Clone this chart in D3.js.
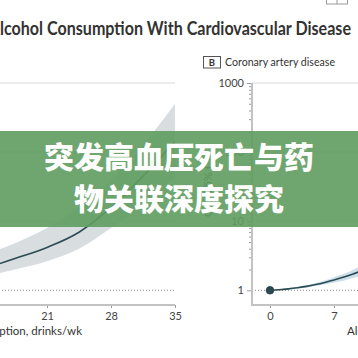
<!DOCTYPE html>
<html><head><meta charset="utf-8">
<script src="https://cdn.jsdelivr.net/npm/d3@7"></script>
<style>html,body{margin:0;padding:0;background:#fff;overflow:hidden}</style>
</head><body>
<svg id="c" width="358" height="358"></svg>
<script>
const titleText = "Alcohol Consumption With Cardiovascular Disease";
const panelBLabel = "B";
const panelBTitle = "Coronary artery disease";
const xTicks = [0, 7, 14, 21, 28, 35];
const yMajorTicks = [1, 10, 100, 1000];
const xTitle = "Alcohol consumption, drinks/wk";
const yTitle = "OR (95% CI)";
const bannerLines = ["突发高血压死亡与药", "物关联深度探究"];

// Panel A (left, mostly cropped)
const drinksA = [0, 3.5, 7, 10.5, 14, 17.5, 21, 24.5, 28, 31.5, 35];
const orA     = [1, 1.1, 1.25, 1.5, 2.04, 2.88, 4.17, 6.92, 15.8, 44.7, 141];
const lowerA  = [1, 1.04, 1.1, 1.25, 1.58, 2.0, 2.63, 3.98, 7.94, 17.8, 44.7];
const upperA  = [1, 1.17, 1.42, 1.8, 3.16, 4.79, 7.94, 15.8, 39.8, 126, 501];

// Panel B (right, Coronary artery disease)
const drinksB = [0, 1, 2, 3, 4, 5, 6, 7, 8, 9, 10, 12, 14, 17.5, 21, 28, 35];
const orB     = [1, 1.02, 1.05, 1.09, 1.14, 1.21, 1.30, 1.41, 1.54, 1.71, 1.91, 2.47, 3.32, 6.2, 13.2, 85, 600];
const lowerB  = [1, 1.01, 1.03, 1.06, 1.10, 1.15, 1.22, 1.29, 1.38, 1.49, 1.62, 1.95, 2.4, 3.6, 5.5, 14, 40];
const upperB  = [1, 1.03, 1.07, 1.12, 1.19, 1.28, 1.39, 1.55, 1.72, 1.95, 2.25, 3.1, 4.5, 10.5, 30, 450, 1000];

const svg = d3.select("#c");
const FONT = "Lato, 'Noto Sans', 'Liberation Sans', sans-serif";
const VIEW_W = 358;
const y = d3.scaleLog().domain([1, 1000]).range([290.3, 83]);
const xAxisY = 305;

const panels = [
  { x: d3.scaleLinear().domain([0, 35]).range([-145, 175]), axisX: -163, right: 175,
    d: drinksA, m: orA, lo: lowerA, hi: upperA, band: "#d8dde0", point: false },
  { x: d3.scaleLinear().domain([0, 35]).range([270, 590]), axisX: 252, right: 590,
    d: drinksB, m: orB, lo: lowerB, hi: upperB, band: "#cddfe9", point: true }
];

const minorTicks = [];
[1, 10, 100].forEach(b => { for (let k = 2; k <= 9; k++) minorTicks.push(b * k); });

panels.forEach((p, i) => {
  const g = svg.append("g");
  g.selectAll("line.grid").data([10, 100, 1000]).join("line")
    .attr("x1", p.axisX).attr("x2", p.right)
    .attr("y1", v => y(v)).attr("y2", v => y(v))
    .attr("stroke", "#e6e6e6").attr("stroke-width", 1.5);
  g.append("line").attr("x1", p.axisX).attr("x2", p.right)
    .attr("y1", y(1)).attr("y2", y(1))
    .attr("stroke", "#8a8a8a").attr("stroke-width", 1).attr("stroke-dasharray", "1,2");

  const clipId = "clip" + i;
  svg.append("clipPath").attr("id", clipId).append("rect")
    .attr("x", p.axisX).attr("y", 83).attr("width", p.right - p.axisX).attr("height", xAxisY - 83);
  const plot = g.append("g").attr("clip-path", `url(#${clipId})`);
  const idx = d3.range(p.d.length);
  const area = d3.area().x(j => p.x(p.d[j])).y0(j => y(p.lo[j])).y1(j => y(p.hi[j])).curve(d3.curveMonotoneX);
  const line = d3.line().x(j => p.x(p.d[j])).y(j => y(p.m[j])).curve(d3.curveMonotoneX);
  plot.append("path").attr("d", area(idx)).attr("fill", p.band);
  plot.append("path").attr("d", line(idx)).attr("fill", "none").attr("stroke", "#2b4a52").attr("stroke-width", 1.6);
  if (p.point) {
    plot.append("circle").attr("cx", p.x(p.d[0])).attr("cy", y(p.m[0])).attr("r", 3.8)
      .attr("fill", "#2b4a52").attr("stroke", "#1f3a42").attr("stroke-width", 0.8);
  }

  // y axis (only when on screen)
  if (p.axisX > 0) {
    const yMaj = d3.axisLeft(y).tickValues(yMajorTicks).tickSize(5).tickPadding(3).tickFormat(d3.format("d"));
    const yMin = d3.axisLeft(y).tickValues(minorTicks).tickSize(3).tickFormat("");
    const ga = g.append("g").attr("transform", `translate(${p.axisX},0)`);
    ga.call(yMin); ga.select(".domain").remove();
    const gb = g.append("g").attr("transform", `translate(${p.axisX},0)`);
    gb.call(yMaj); gb.select(".domain").remove();
    [ga, gb].forEach(s => s.selectAll(".tick line").attr("stroke", "#9a9a9a").attr("stroke-width", 1));
    gb.selectAll(".tick text").attr("font-family", FONT).attr("font-size", 11).attr("fill", "#444");
  }

  // x axis: only ticks that fall inside the picture
  const visTicks = xTicks.filter(t => p.x(t) >= 0 && p.x(t) <= VIEW_W);
  const xa = d3.axisBottom(p.x).tickValues(visTicks).tickSize(3).tickPadding(4).tickFormat(d3.format("d"));
  const gx = g.append("g").attr("transform", `translate(0,${xAxisY})`).call(xa);
  gx.select(".domain").remove();
  gx.selectAll(".tick line").attr("stroke", "#9a9a9a");
  gx.selectAll(".tick text").attr("font-family", FONT).attr("font-size", 11).attr("fill", "#444");

  g.append("line").attr("x1", p.axisX).attr("x2", p.axisX).attr("y1", 83).attr("y2", xAxisY)
    .attr("stroke", "#c2c2c2").attr("stroke-width", 2);
  g.append("line").attr("x1", p.axisX - 1).attr("x2", p.right).attr("y1", xAxisY).attr("y2", xAxisY)
    .attr("stroke", "#c2c2c2").attr("stroke-width", 2);
});

// x-axis titles (cropped by the picture edges, as in the reference)
svg.append("text").attr("x", 82).attr("y", 335).attr("text-anchor", "end")
  .attr("font-family", FONT).attr("font-size", 11.5).attr("fill", "#333").text(xTitle);
svg.append("text").attr("x", 347).attr("y", 335).attr("text-anchor", "start")
  .attr("font-family", FONT).attr("font-size", 11.5).attr("fill", "#333").text(xTitle);

// y-axis title (right panel)
svg.append("text").attr("transform", "translate(212,186) rotate(-90)").attr("text-anchor", "middle")
  .attr("font-family", FONT).attr("font-size", 11.5).attr("fill", "#333").text(yTitle);

// panel B label
svg.append("rect").attr("x", 203.5).attr("y", 56.5).attr("width", 17).attr("height", 11.5)
  .attr("fill", "#fff").attr("stroke", "#555").attr("stroke-width", 1);
svg.append("text").attr("x", 212).attr("y", 65.5).attr("text-anchor", "middle")
  .attr("font-family", FONT).attr("font-weight", 700).attr("font-size", 9.5).attr("fill", "#333").text(panelBLabel);
svg.append("text").attr("x", 225).attr("y", 65.5)
  .attr("font-family", FONT).attr("font-size", 11.5).attr("fill", "#333")
  .attr("textLength", 110).attr("lengthAdjust", "spacingAndGlyphs").text(panelBTitle);

// small icon at top right
svg.append("rect").attr("x", 326.5).attr("y", -8).attr("width", 21).attr("height", 12)
  .attr("fill", "none").attr("stroke", "#999").attr("stroke-width", 1);
svg.append("line").attr("x1", 337).attr("x2", 337).attr("y1", -8).attr("y2", 4)
  .attr("stroke", "#999").attr("stroke-width", 1);

// title: "A" clipped off the left edge
const tt = svg.append("text").attr("y", 35).attr("font-family", FONT).attr("font-weight", 700)
  .attr("font-size", 18).attr("fill", "#333").text(titleText);
const W = tt.node().getComputedTextLength();
const tA = svg.append("text").attr("font-family", FONT).attr("font-weight", 700).attr("font-size", 18).text("A");
const wA = tA.node().getComputedTextLength();
tA.remove();
const target = 351;
const L = target / (1 - wA / W);
const s = L / W;
tt.attr("x", -s * wA).attr("textLength", L).attr("lengthAdjust", "spacingAndGlyphs");

// banner overlay
svg.append("rect").attr("x", 0).attr("y", 131).attr("width", 358).attr("height", 96)
  .attr("fill", "#5f9c5f").attr("opacity", 0.9);
svg.selectAll("text.banner").data(bannerLines).join("text").attr("class", "banner")
  .attr("x", 179).attr("y", (d, i) => 168 + i * 42).attr("text-anchor", "middle")
  .attr("font-family", "'Noto Sans CJK SC', sans-serif").attr("font-weight", 900)
  .attr("font-size", 30).attr("fill", "#fff").text(d => d);
</script>
</body></html>
